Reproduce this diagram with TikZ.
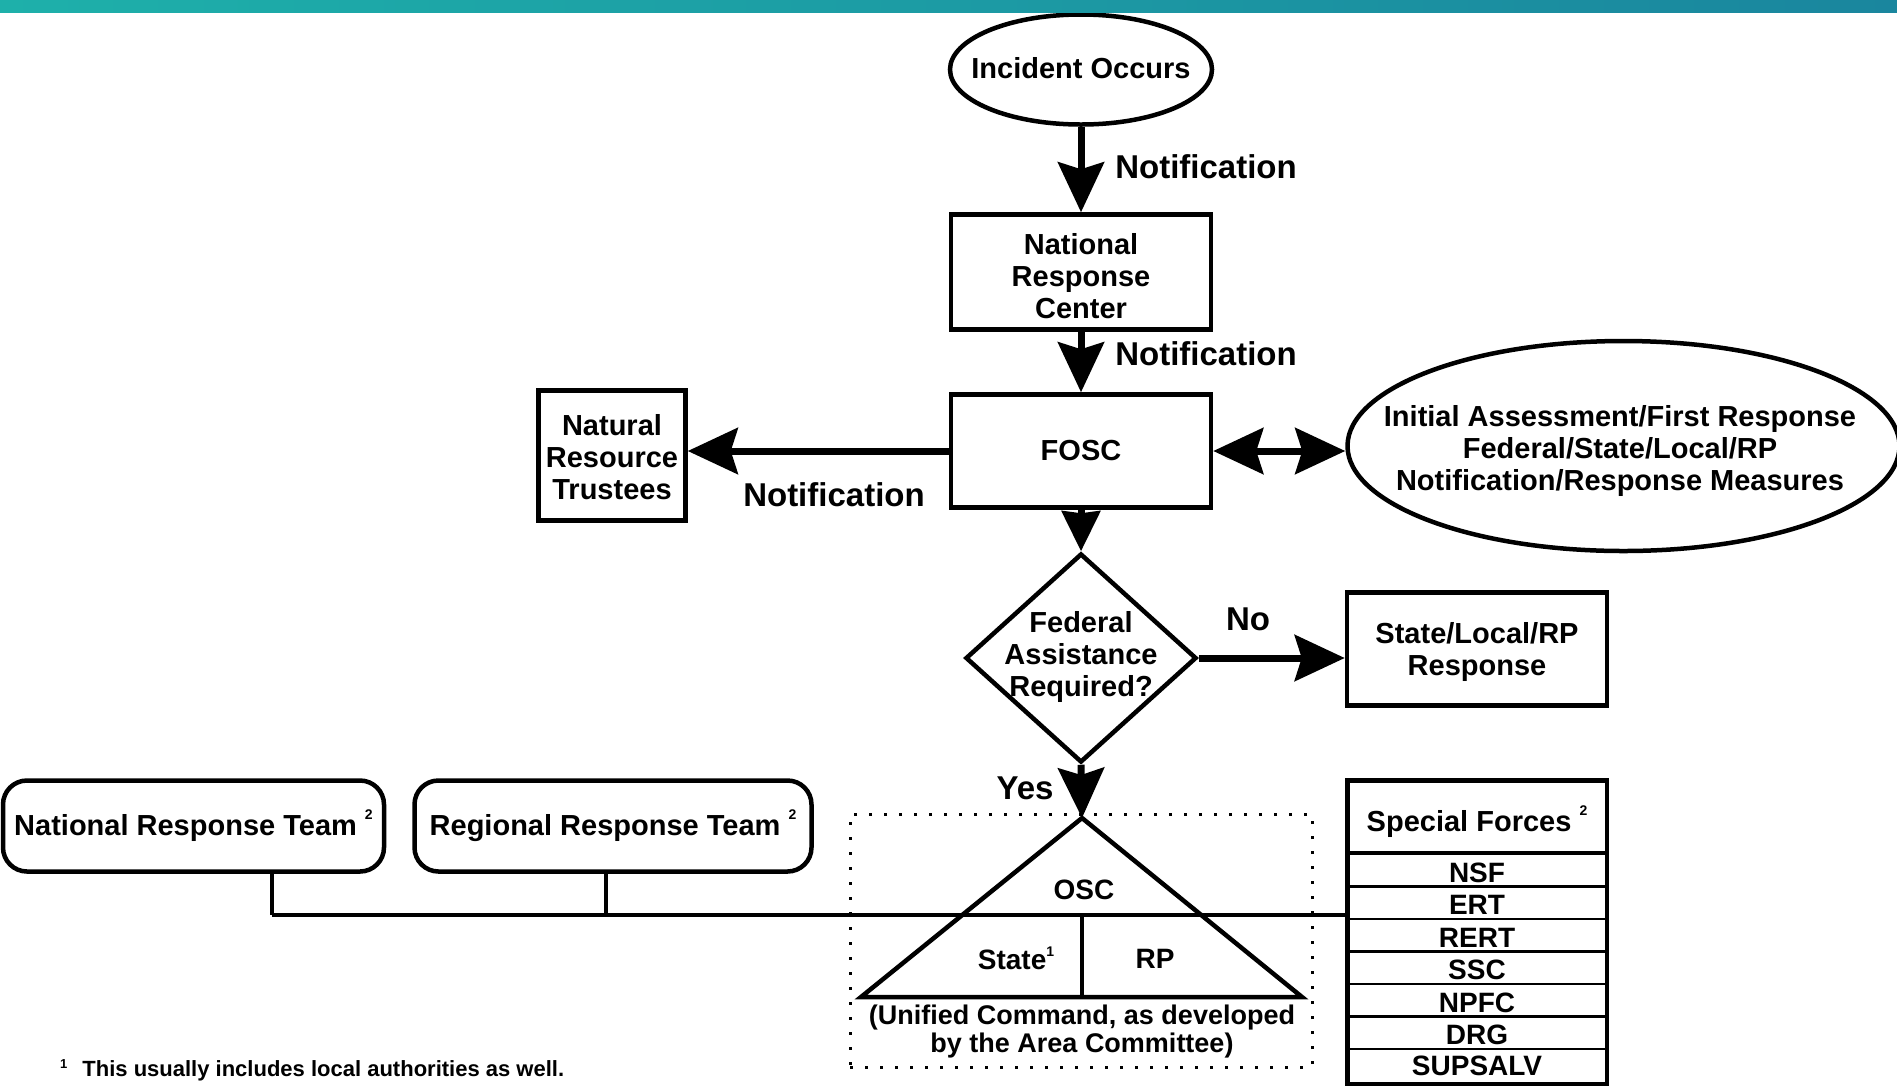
\documentclass[tikz,border=0pt]{standalone}
\usepackage{fontspec}
\setmainfont{Liberation Sans}
\usetikzlibrary{arrows.meta,shapes.geometric}
\definecolor{tealL}{RGB}{30,176,170}
\definecolor{tealR}{RGB}{26,134,158}
\newcommand{\supnum}[2][16pt]{\raisebox{#1}{\fontsize{14}{14}\selectfont #2}}
\begin{document}
\begin{tikzpicture}[x=1pt,y=-1pt,
  >={Stealth[length=50pt,width=46pt,inset=7pt]},
  txt/.style={font=\fontsize{29}{32}\selectfont\bfseries, align=center, inner sep=0pt},
  tri/.style={font=\fontsize{28}{28}\selectfont\bfseries, align=center, inner sep=0pt},
  lbl/.style={font=\fontsize{33}{36}\selectfont\bfseries, inner sep=0pt},
  box/.style={draw, line width=4.5pt, inner sep=0pt, txt},
  oval/.style={draw, ellipse, line width=4.5pt, inner sep=0pt},
  rbox/.style={box, rounded corners=24pt},
  flow/.style={line width=7pt, ->},
  bus/.style={line width=4.5pt},
  dotbox/.style={draw, line width=3pt, dash pattern=on 3pt off 12pt, inner sep=0pt},
  row/.style={draw, line width=2.5pt, minimum width=259.5pt, inner sep=0pt,
     font=\fontsize{28}{28}\selectfont\bfseries, text height=24pt, text depth=0pt},
]
\useasboundingbox (0,0) rectangle (1897,1088);
\fill[white] (0,0) rectangle (1897,1088);

% main column
\node[oval, minimum width=262pt, minimum height=110pt] (inc) at (1081,69.5) {};
\node[txt] (inct) at (1081,68) {Incident Occurs};
\node[box, minimum width=260pt, minimum height=115pt] (nrc) at (1081,272) {};
\node[txt] (nrct) at (1081,276) {National\\Response\\Center};
\node[box, minimum width=260pt, minimum height=113pt] (fosc) at (1081,451) {FOSC};
\node[box, minimum width=147pt, minimum height=130pt] (nrt) at (612,455.5) {};
\node[txt] (nrtt) at (612,457) {Natural\\Resource\\Trustees};
\node[oval, minimum width=552pt, minimum height=210pt] (ia) at (1623.5,446) {};
\node[txt] (iat) at (1620,450.5) {Initial Assessment/First Response\\Federal/State/Local/RP\\Notification/Response Measures};
\node[diamond, draw, line width=4.5pt, inner sep=0pt, minimum width=231pt, minimum height=209pt] (dia) at (1081,658) {};
\node[txt] (diat) at (1081,656.5) {Federal\\Assistance\\Required?};
\node[box, minimum width=260pt, minimum height=113pt] (slrp) at (1477,649) {};
\node[txt] (slrpt) at (1477,651.5) {State/Local/RP\\Response};

% response teams
\node[rbox, minimum width=381pt, minimum height=91pt] (nrteam) at (193.5,826) {National Response Team \supnum{2}};
\node[rbox, minimum width=397pt, minimum height=91pt] (rrteam) at (613,826) {Regional Response Team \supnum{2}};

% unified command
\node[dotbox, minimum width=462pt, minimum height=253pt] (ucbox) at (1081,940.5) {};
\coordinate (apex) at (1082,818);
\coordinate (tbl) at (861,997);
\coordinate (tbr) at (1302,997);
\draw[line width=4.5pt] (apex) -- (tbl) -- (tbr) -- cycle;
\coordinate (busA) at (272,915);
\coordinate (busB) at (606,915);
\draw[line width=4pt] (apex |- busA) -- (apex |- tbl);
\node[tri] (osc) at (1084,890) {OSC};
\node[tri] (state) at (1016,958) {State\supnum[13pt]{1}};
\node[tri] (rp) at (1155,959) {RP};
\node[font=\fontsize{27}{28}\selectfont\bfseries, align=center, inner sep=0pt] (uc) at (1082,1031) {(Unified Command, as developed\\by the Area Committee)};

% special forces
\node[row, minimum height=32.5pt] (nsf) at (1477,870.25) {NSF};
\node[row, minimum height=32.5pt] (ert) at (1477,902.75) {ERT};
\node[row, minimum height=32.5pt] (rert) at (1477,935.25) {RERT};
\node[row, minimum height=32.5pt] (ssc) at (1477,967.75) {SSC};
\node[row, minimum height=32.5pt] (npfc) at (1477,1000.25) {NPFC};
\node[row, minimum height=32.5pt] (drg) at (1477,1032.75) {DRG};
\node[row, minimum height=35pt, text height=18pt] (sup) at (1477,1066.5) {SUPSALV};
\node[draw, line width=4.5pt, inner sep=0pt, minimum width=259.5pt, minimum height=72.5pt,
   font=\fontsize{29}{32}\selectfont\bfseries, text height=30pt, text depth=0pt] (sfh) at (1477,816.5) {Special Forces \supnum{2}};
\node[draw, line width=4.5pt, inner sep=0pt, minimum width=259.5pt, minimum height=303.5pt] (sf) at (1477,932) {};

% bus connectors
\draw[bus] (busA) -- (busA -| sf.west);
\draw[bus] (nrteam.south -| busA) -- (busA);
\draw[bus] (rrteam.south -| busB) -- (busB);

% arrows
\draw[flow] (inc.south) -- (nrc.north);
\draw[flow] (nrc.south) -- (fosc.north);
\draw[flow] (fosc.west) -- (fosc.west -| nrt.east);
\draw[flow, <->] (fosc.east) -- (fosc.east -| ia.west);
\draw[line width=7pt, -{Stealth[length=40pt,width=38pt,inset=2pt]}] (fosc.south) -- (dia.north);
\draw[flow] (dia.east) -- (dia.east -| slrp.west);
\draw[flow] (dia.south) -- (apex);

% labels
\node[lbl] (n1) at (1206,167) {Notification};
\node[lbl] (n2) at (1206,354) {Notification};
\node[lbl] (n3) at (834,495) {Notification};
\node[lbl] (no) at (1248,619) {No};
\node[lbl] (yes) at (1025,788) {Yes};

% footnote
\node[anchor=west, inner sep=0pt, font=\fontsize{22}{24}\selectfont\bfseries] (fn) at (60,1070.5) {\raisebox{8pt}{\fontsize{13}{13}\selectfont 1}\hspace{15pt}This usually includes local authorities as well.};

% top bar
\shade[left color=tealL, right color=tealR] (0,0) rectangle (1897,12);
\end{tikzpicture}
\end{document}
